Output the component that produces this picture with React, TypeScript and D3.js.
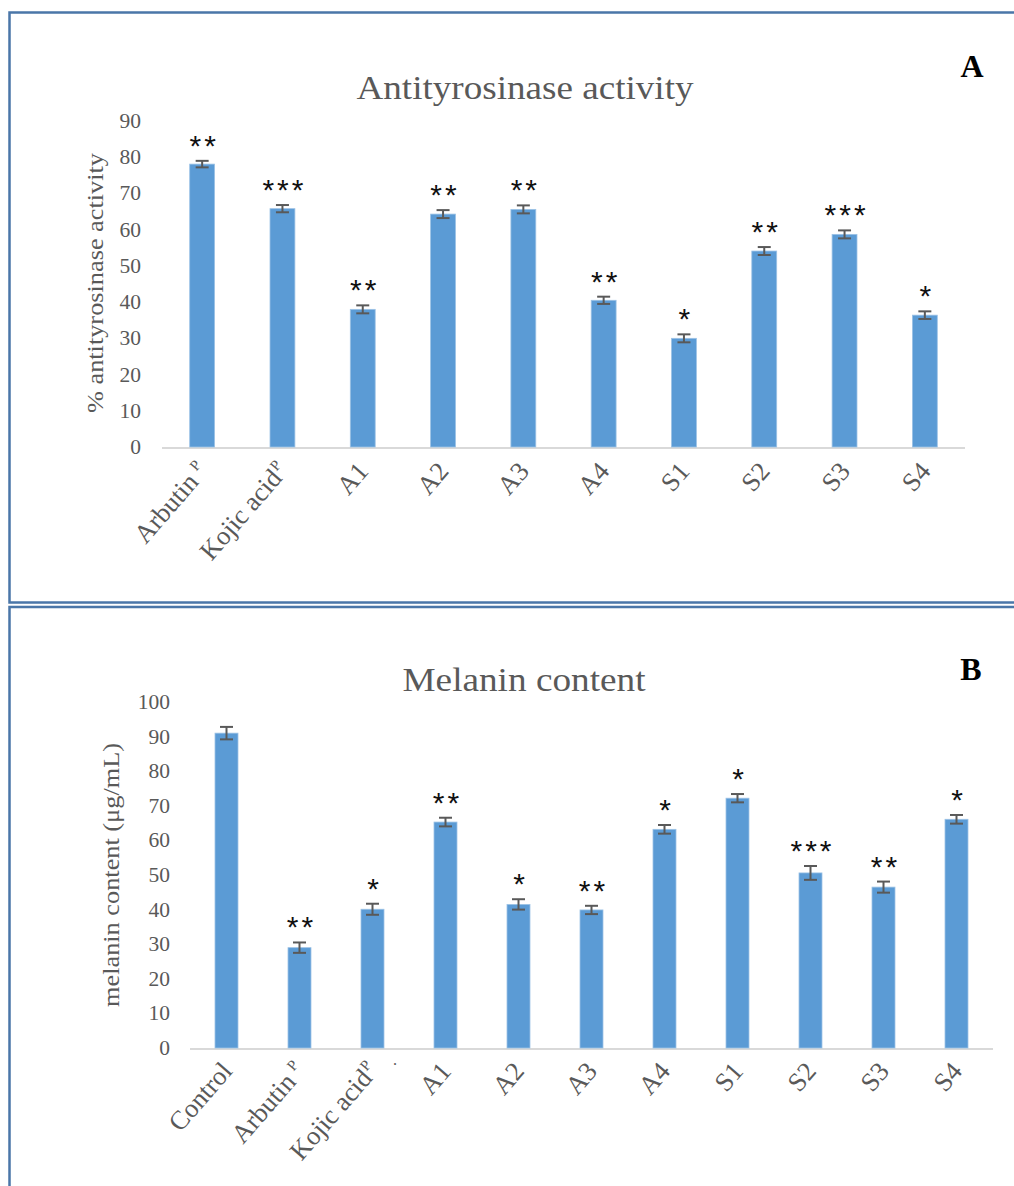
import React from "react";
import * as d3 from "d3";

// ---------- Data ----------
const catsA = ["Arbutin", "Kojic acid", "A1", "A2", "A3", "A4", "S1", "S2", "S3", "S4"];
const supA = ["P", "P", "", "", "", "", "", "", "", ""];
const valuesA = [78.1, 65.8, 38.0, 64.3, 65.6, 40.5, 30.0, 54.1, 58.7, 36.4];
const errorsA = [0.9, 1.0, 1.1, 1.1, 1.1, 1.0, 1.1, 1.1, 1.1, 1.05];
const starsA = ["**", "***", "**", "**", "**", "**", "*", "**", "***", "*"];
const ticksA = [0, 10, 20, 30, 40, 50, 60, 70, 80, 90];

const catsB = ["Control", "Arbutin", "Kojic acid", "A1", "A2", "A3", "A4", "S1", "S2", "S3", "S4"];
const supB = ["", "P", "P", "", "", "", "", "", "", "", ""];
const valuesB = [91.0, 29.0, 40.1, 65.3, 41.5, 39.9, 63.2, 72.2, 50.6, 46.5, 66.1];
const errorsB = [1.8, 1.5, 1.6, 1.25, 1.5, 1.2, 1.25, 1.2, 2.0, 1.6, 1.25];
const starsB = ["", "**", "*", "**", "*", "**", "*", "*", "***", "**", "*"];
const ticksB = [0, 10, 20, 30, 40, 50, 60, 70, 80, 90, 100];

const SERIF = "'Liberation Serif', 'Times New Roman', serif";
const SANS = "'Liberation Sans', Arial, sans-serif";
const GRAY = "#595959";
const BAR = "#5b9bd5";
const BORDER = "#4a76a8";

type PanelProps = {
  cats: string[];
  sups: string[];
  values: number[];
  errors: number[];
  stars: string[];
  ticks: number[];
  xRange: [number, number];
  yDomain: [number, number];
  yRange: [number, number];
  padInner: number;
  title: string;
  titleX: number;
  titleY: number;
  titleLen: number;
  yTitle: string;
  yTitleX: number;
  yTitleY: number;
  yTitleLen: number;
  tickRight: number;
  labelDy: number;
  panelLetter: string;
  letterX: number;
  letterY: number;
};

function Panel(p: PanelProps) {
  const x = d3
    .scaleBand<string>()
    .domain(p.cats)
    .range(p.xRange)
    .paddingInner(p.padInner)
    .paddingOuter(p.padInner / 2);
  const y = d3.scaleLinear().domain(p.yDomain).range(p.yRange);
  const base = y(0);
  const bw = x.bandwidth();
  const cap = 6.5;
  return (
    <g>
      <text
        x={p.titleX}
        y={p.titleY}
        textAnchor="middle"
        fontFamily={SERIF}
        fontSize={34}
        fill={GRAY}
        textLength={p.titleLen}
        lengthAdjust="spacingAndGlyphs"
      >
        {p.title}
      </text>
      <text
        x={p.letterX}
        y={p.letterY}
        textAnchor="middle"
        fontFamily={SERIF}
        fontWeight="bold"
        fontSize={32}
        fill="#000"
      >
        {p.panelLetter}
      </text>
      {p.ticks.map((t) => (
        <text
          key={t}
          x={p.tickRight}
          y={y(t) + 7}
          textAnchor="end"
          fontFamily={SERIF}
          fontSize={21.5}
          fill={GRAY}
        >
          {t}
        </text>
      ))}
      <text
        transform={`translate(${p.yTitleX},${p.yTitleY}) rotate(-90)`}
        textAnchor="middle"
        fontFamily={SERIF}
        fontSize={23}
        fill={GRAY}
        textLength={p.yTitleLen}
        lengthAdjust="spacingAndGlyphs"
      >
        {p.yTitle}
      </text>
      <line x1={p.xRange[0]} x2={p.xRange[1]} y1={base + 1} y2={base + 1} stroke="#d9d9d9" strokeWidth={2} />
      {p.cats.map((c, i) => {
        const cx = (x(c) as number) + bw / 2;
        const top = y(p.values[i]);
        const eTop = y(p.values[i] + p.errors[i]);
        const eBot = y(p.values[i] - p.errors[i]);
        return (
          <g key={c}>
            <rect
              x={x(c)}
              y={top}
              width={bw}
              height={base - top}
              fill={BAR}
              stroke="#9cc2e5"
              strokeWidth={0.8}
            />
            <line x1={cx} x2={cx} y1={eTop} y2={eBot} stroke={GRAY} strokeWidth={2} />
            <line x1={cx - cap} x2={cx + cap} y1={eTop} y2={eTop} stroke={GRAY} strokeWidth={2} />
            <line x1={cx - cap} x2={cx + cap} y1={eBot} y2={eBot} stroke={GRAY} strokeWidth={2} />
            {p.stars[i] && (
              <text
                x={cx + 2}
                y={eTop - 22 + 17}
                textAnchor="middle"
                fontFamily={SANS}
                fontSize={30}
                letterSpacing={3}
                fill="#111"
              >
                {p.stars[i]}
              </text>
            )}
            <text
              transform={`translate(${cx + 7},${base + p.labelDy}) rotate(-49)`}
              textAnchor="end"
              fontFamily={SERIF}
              fontSize={26.5}
              fill={GRAY}
            >
              {c}
              {p.sups[i] && (
                <tspan dx={c === "Arbutin" ? 6 : 1} dy={-10} fontSize={15}>
                  {p.sups[i]}
                </tspan>
              )}
            </text>
          </g>
        );
      })}
    </g>
  );
}

export default function App() {
  return (
    <svg
      width={1014}
      height={1186}
      style={{ position: "absolute", left: 0, top: 0, background: "#fff" }}
    >
      <rect x={0} y={0} width={1014} height={1186} fill="#fff" />
      <rect x={9.5} y={12.5} width={1020} height={590} fill="none" stroke={BORDER} strokeWidth={2.5} />
      <rect x={9.5} y={607} width={1020} height={600} fill="none" stroke={BORDER} strokeWidth={2.5} />
      <Panel
        cats={catsA}
        sups={supA}
        values={valuesA}
        errors={errorsA}
        stars={starsA}
        ticks={ticksA}
        xRange={[162, 965]}
        yDomain={[0, 90]}
        yRange={[447, 121]}
        padInner={0.69}
        title="Antityrosinase activity"
        titleX={525}
        titleY={99}
        titleLen={337}
        yTitle="% antityrosinase activity"
        yTitleX={103}
        yTitleY={283}
        yTitleLen={260}
        tickRight={141}
        labelDy={25}
        panelLetter="A"
        letterX={972}
        letterY={77}
      />
      <Panel
        cats={catsB}
        sups={supB}
        values={valuesB}
        errors={errorsB}
        stars={starsB}
        ticks={ticksB}
        xRange={[190, 993]}
        yDomain={[0, 100]}
        yRange={[1048, 702]}
        padInner={0.685}
        title="Melanin content"
        titleX={524}
        titleY={691}
        titleLen={243}
        yTitle="melanin content (μg/mL)"
        yTitleX={119}
        yTitleY={875}
        yTitleLen={264}
        tickRight={170}
        labelDy={24}
        panelLetter="B"
        letterX={971}
        letterY={680}
      />
      <text x={393} y={1065} fontFamily={SERIF} fontSize={16} fill={GRAY}>
        .
      </text>
    </svg>
  );
}
